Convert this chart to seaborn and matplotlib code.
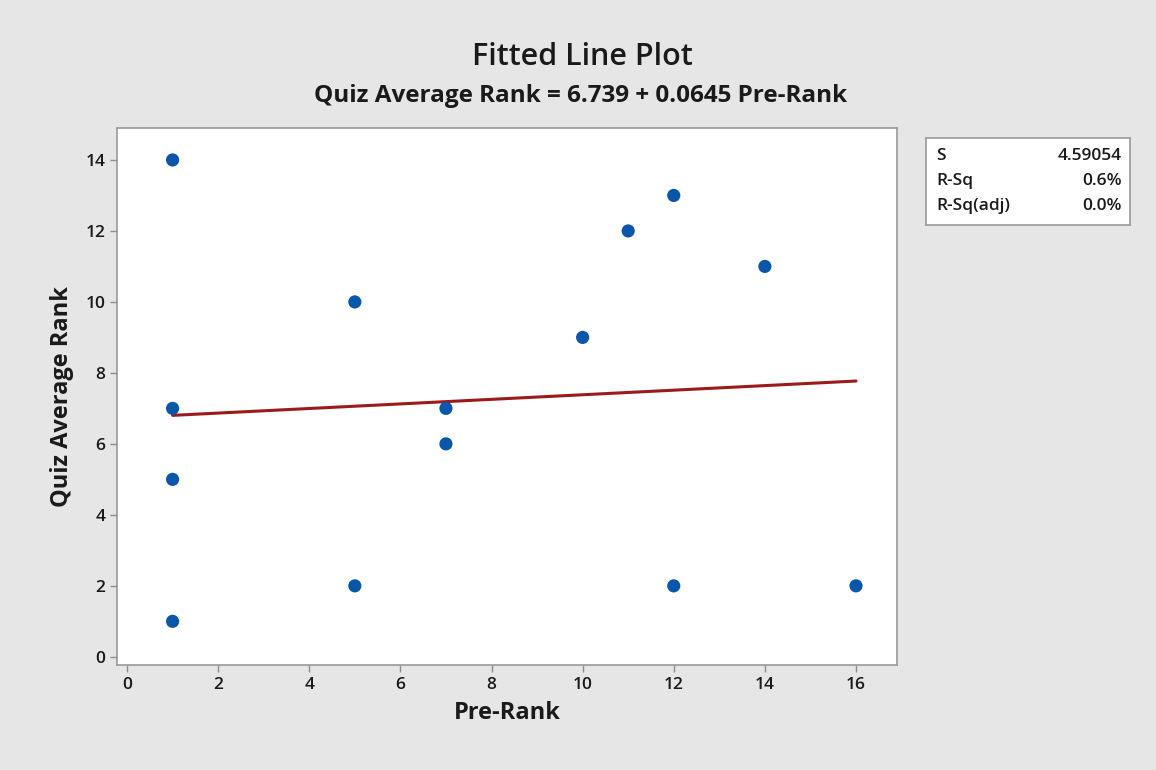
import numpy as np
import pandas as pd
import seaborn as sns
import matplotlib.pyplot as plt

# data
pre_rank = [1, 1, 1, 1, 5, 5, 7, 7, 10, 11, 12, 12, 14, 16]
quiz_avg_rank = [14, 7, 5, 1, 10, 2, 7, 6, 9, 12, 13, 2, 11, 2]
intercept = 6.739
slope = 0.0645
stat_names = ["S", "R-Sq", "R-Sq(adj)"]
stat_values = ["4.59054", "0.6%", "0.0%"]

df = pd.DataFrame({"Pre-Rank": pre_rank, "Quiz Average Rank": quiz_avg_rank})

sns.set_style("white")
plt.rcParams['font.family'] = ['Open Sans', 'DejaVu Sans']

bg = "#e6e6e6"
txt = "#1a1a1a"
fig = plt.figure(figsize=(11.56, 7.70), dpi=100, facecolor=bg)
ax = fig.add_axes([117 / 1156, 1 - 665 / 770, 780 / 1156, 537 / 770])
ax.set_facecolor("white")

xs = np.array([min(pre_rank), max(pre_rank)])
ax.plot(xs, intercept + slope * xs, color="#9b1b1b", lw=2.2, zorder=2)
sns.scatterplot(data=df, x="Pre-Rank", y="Quiz Average Rank", ax=ax,
                color="#0a56a8", s=90, edgecolor="none", zorder=3)

ax.set_xlim(-0.22, 16.9)
ax.set_ylim(-0.23, 14.9)
ax.set_xticks(range(0, 17, 2))
ax.set_yticks(range(0, 15, 2))
ax.tick_params(axis="both", length=5, width=1, color="#8c8c8c",
               labelsize=12.5, labelcolor=txt, direction="out",
               bottom=True, left=True)
for lab in ax.get_xticklabels() + ax.get_yticklabels():
    lab.set_fontweight("semibold")
for sp in ax.spines.values():
    sp.set_color("#9a9a9a")
    sp.set_linewidth(1.2)
ax.set_xlabel("Pre-Rank", fontsize=17, fontweight="bold", color=txt,
              labelpad=6)
ax.set_ylabel("Quiz Average Rank", fontsize=17, fontweight="bold",
              color=txt, labelpad=8)

fig.text(582 / 1156, 1 - 57 / 770, "Fitted Line Plot", ha="center", va="center",
         fontsize=22, fontweight="semibold", color=txt)
fig.text(581 / 1156, 1 - 96 / 770, f"Quiz Average Rank = {intercept} + {slope} Pre-Rank",
         ha="center", va="center", fontsize=17.5, fontweight="bold", color=txt)

# stats box
bx = fig.add_axes([926 / 1156, 1 - 225 / 770, 204 / 1156, 87 / 770])
bx.set_facecolor("white")
bx.set_xticks([])
bx.set_yticks([])
for sp in bx.spines.values():
    sp.set_color("#9a9a9a")
    sp.set_linewidth(1.2)
for i, (n, v) in enumerate(zip(stat_names, stat_values)):
    yy = 0.79 - i * 0.285
    bx.text(0.05, yy, n, transform=bx.transAxes, ha="left", va="center",
            fontsize=12.5, fontweight="semibold", color=txt)
    bx.text(0.96, yy, v, transform=bx.transAxes, ha="right", va="center",
            fontsize=12.5, fontweight="semibold", color=txt)

fig.savefig("out.png", dpi=100, facecolor=bg)
